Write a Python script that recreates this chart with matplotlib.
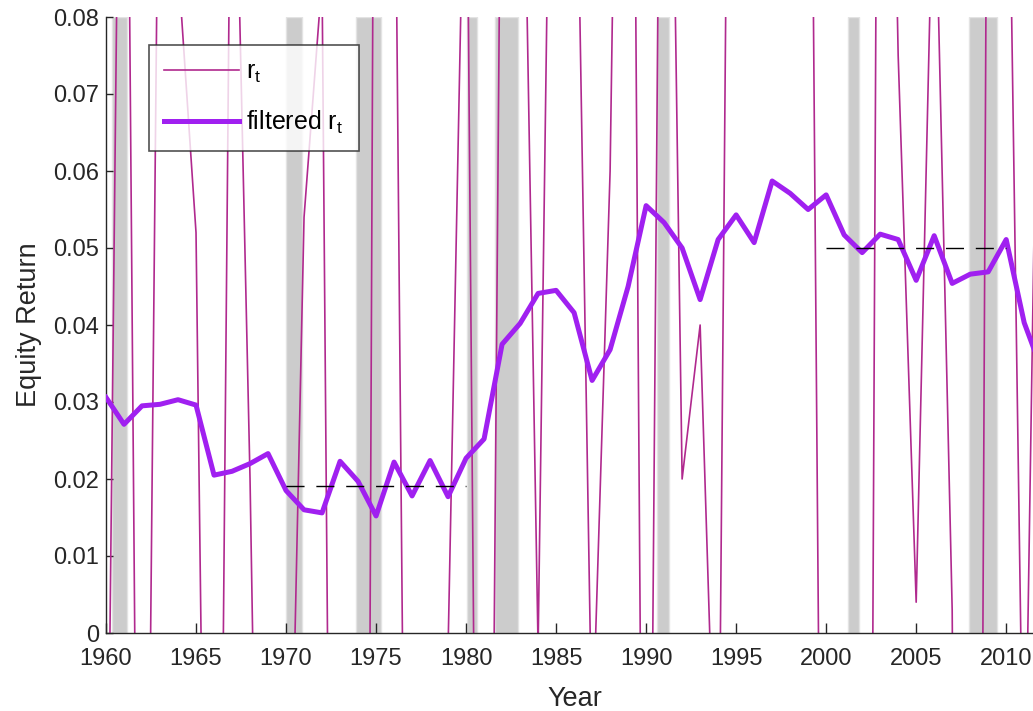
import matplotlib
matplotlib.use("Agg")
import matplotlib.pyplot as plt

plt.rcParams['font.family'] = ['Liberation Sans', 'DejaVu Sans']
plt.rcParams['mathtext.default'] = 'regular'

# Years and series
years = list(range(1960, 2013))

# raw equity return r_t (most values fall outside the 0-0.08 window)
raw_r = [-0.048, 0.170, -0.115, 0.125, 0.087, 0.052, -0.135, 0.125, 0.020, -0.120,
         -0.054, 0.054, 0.085, -0.197, -0.355, 0.178, 0.119, -0.138, -0.050, -0.002,
         0.115, -0.160, 0.125, 0.133, -0.002, 0.168, 0.125, -0.015, 0.060, 0.220,
         -0.107, 0.181, 0.020, 0.040, -0.035, 0.240, 0.170, 0.250, 0.220, 0.165,
         -0.123, -0.140, -0.285, 0.195, 0.075, 0.004, 0.105, 0.003, -0.339, 0.141,
         0.128, -0.030, 0.120]

# filtered r_t
filtered_r = [0.0306, 0.0271, 0.0295, 0.0297, 0.0303, 0.0296, 0.0205, 0.0210, 0.0220, 0.0233,
              0.0185, 0.0160, 0.0156, 0.0223, 0.0197, 0.0152, 0.0222, 0.0178, 0.0224, 0.0177,
              0.0227, 0.0252, 0.0375, 0.0402, 0.0441, 0.0445, 0.0416, 0.0328, 0.0368, 0.0450,
              0.0555, 0.0533, 0.0500, 0.0433, 0.0511, 0.0543, 0.0507, 0.0587, 0.0571, 0.0550,
              0.0569, 0.0517, 0.0494, 0.0518, 0.0511, 0.0458, 0.0516, 0.0454, 0.0466, 0.0469,
              0.0511, 0.0403, 0.0340]

# NBER recession periods
recessions = [(1960.33, 1961.17), (1970.0, 1970.9), (1973.9, 1975.25), (1980.05, 1980.6),
              (1981.6, 1982.9), (1990.6, 1991.25), (2001.2, 2001.85), (2007.95, 2009.5)]

# sub-period means
period_starts = [1970, 2000]
period_ends = [1980, 2010]
period_means = [0.0191, 0.0500]

x_ticks = list(range(1960, 2011, 5))
y_ticks = [0, 0.01, 0.02, 0.03, 0.04, 0.05, 0.06, 0.07, 0.08]
y_labels = ['0', '0.01', '0.02', '0.03', '0.04', '0.05', '0.06', '0.07', '0.08']

fig = plt.figure(figsize=(10.33, 7.11), dpi=100)
ax = fig.add_axes([106 / 1033, 1 - 633 / 711, (1044 - 106) / 1033, (633 - 17) / 711])

for start, end in recessions:
    ax.axvspan(start, end, facecolor='#CCCCCC', edgecolor='#E3E3E3', linewidth=1, zorder=1)

ax.plot(years, raw_r, color='#B0298E', linewidth=1.2, label=r'r$_t$', zorder=2)
ax.plot(years, filtered_r, color='#A020F0', linewidth=3.6, label=r'filtered r$_t$', zorder=3)

for s, e, m in zip(period_starts, period_ends, period_means):
    ax.plot([s, e], [m, m], color='black', linewidth=1.0, dashes=(13, 8.5), zorder=4)

ax.set_xlim(1960, 2012.1)
ax.set_ylim(0, 0.08)
ax.set_xticks(x_ticks)
ax.set_yticks(y_ticks)
ax.set_yticklabels(y_labels)

for side in ['top', 'right']:
    ax.spines[side].set_visible(False)
for side in ['left', 'bottom']:
    ax.spines[side].set_color('#262626')
    ax.spines[side].set_linewidth(1.0)

ax.tick_params(axis='x', direction='in', length=7, width=1.0, color='#262626',
               labelsize=17, labelcolor='#262626', pad=11)
ax.tick_params(axis='y', direction='in', length=5, width=1.0, color='#262626',
               labelsize=17, labelcolor='#262626', pad=5)

ax.set_xlabel('Year', fontsize=19.5, color='#262626', labelpad=11)
ax.set_ylabel('Equity Return', fontsize=19.5, color='#262626', labelpad=8)

leg = ax.legend(loc='upper left', bbox_to_anchor=((149 - 106) / 938, (633 - 45) / 616),
                fontsize=18, frameon=True, fancybox=False, handlelength=3.0,
                borderpad=0.6, labelspacing=0.95, handletextpad=0.3, borderaxespad=0)
leg.get_frame().set_edgecolor('#262626')
leg.get_frame().set_linewidth(1.2)

fig.savefig('out.png', dpi=100)
